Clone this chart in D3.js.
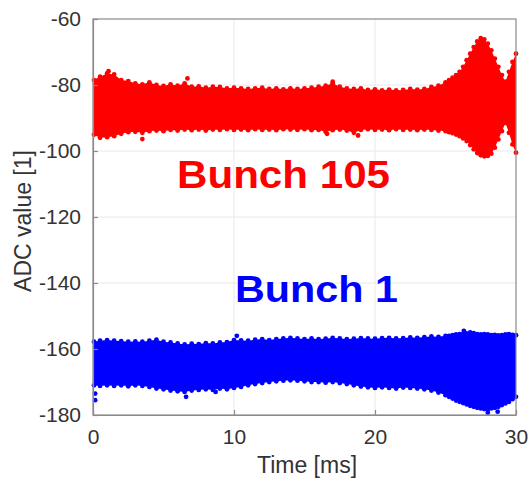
<!DOCTYPE html>
<html>
<head>
<meta charset="utf-8">
<script src="https://cdn.jsdelivr.net/npm/d3@7"></script>
<style>
  html, body { margin: 0; padding: 0; background: #fff; }
  svg { display: block; }
  text { font-family: "Liberation Sans", Arial, sans-serif; }
</style>
</head>
<body>
<svg id="chart" width="530" height="484"></svg>
<script>
// ---- data (envelopes of the dense sample clouds) ----
const time = [0,0.5,1,1.5,2,2.5,3,3.5,4,4.5,5,5.5,6,6.5,7,7.5,8,8.5,9,9.5,10,10.5,11,11.5,12,12.5,13,13.5,14,14.5,15,15.5,16,16.5,17,17.5,18,18.5,19,19.5,20,20.5,21,21.5,22,22.5,23,23.5,24,24.5,25,25.25,25.5,25.75,26,26.25,26.5,26.75,27,27.25,27.5,27.75,28,28.25,28.5,28.75,29,29.25,29.5,29.75,30];

const bunch105Upper = [-78.5,-77.5,-76.5,-76.8,-78.5,-78.8,-79.5,-79.8,-79.2,-80,-80.3,-79.8,-80.2,-79.5,-80.5,-80.4,-80.8,-80.5,-80.6,-81,-80.8,-81,-81.2,-81,-80.8,-81.2,-81,-81.3,-81,-81.2,-81,-80.8,-80.5,-80.2,-79.5,-80.5,-81,-81.2,-81,-81.5,-81.3,-81.6,-81.4,-81.6,-81.5,-81.2,-81.4,-81.2,-80.6,-80.2,-79.2,-78.5,-77.8,-77,-76,-74.5,-72.5,-70.5,-68.5,-66.8,-65.8,-66.2,-67.5,-69.5,-72,-74.5,-77,-79,-76,-73,-70.5];
const bunch105Lower = [-95,-96,-95.8,-95.5,-94.8,-94.3,-94.2,-94.5,-94,-93.8,-94,-93.6,-93.8,-93.5,-93.7,-93.5,-93.8,-93.5,-93.6,-93.4,-93.6,-93.5,-93.7,-93.4,-93.6,-93.5,-93.7,-93.4,-93.5,-93.6,-93.4,-93.7,-93.6,-94.2,-93.7,-93.5,-93.8,-94.5,-93.6,-93.4,-93.6,-93.5,-93.7,-93.4,-93.6,-93.5,-93.7,-93.5,-93.6,-93.8,-94,-94.3,-94.6,-95,-95.5,-96.2,-97,-98.2,-99.5,-100.6,-101.3,-101.6,-101.5,-100.8,-99,-96.5,-94,-91.5,-94.5,-98,-100.5];

const bunch1Upper = [-157.8,-157.5,-157.3,-157.5,-157.6,-157.8,-157.7,-157.8,-157.5,-157.2,-157.8,-158,-158.3,-158.6,-158.4,-158.5,-158.2,-158.3,-158,-157.9,-157.3,-157.4,-157.5,-157.2,-157,-157.3,-157,-156.8,-156.6,-156.8,-157,-156.8,-157,-156.9,-156.6,-156.8,-157,-156.9,-156.7,-156.8,-156.9,-156.7,-156.6,-156.8,-156.7,-156.5,-156.6,-156.4,-156.2,-156.3,-156,-156,-155.8,-155.6,-155.5,-155.4,-155.3,-155,-155.2,-155.5,-155.6,-155.5,-155.6,-155.8,-155.7,-155.9,-155.8,-155.6,-155.5,-155.7,-155.8];
const bunch1Lower = [-171,-171.2,-171,-171.2,-171,-171.3,-171,-171.2,-171.5,-172,-172.2,-172.6,-172.8,-173,-172.6,-172.4,-172.2,-172.4,-172,-172.2,-171.8,-171.5,-171,-170.6,-170.3,-170,-169.8,-169.6,-169.5,-169.6,-169.8,-170,-170,-170.2,-170,-170.3,-170.6,-171,-171.4,-171.6,-171.8,-171.6,-171.8,-172,-171.7,-171.8,-172,-172.2,-172.6,-173.2,-174,-174.5,-175,-175.6,-176,-176.4,-176.8,-177.2,-177.5,-177.8,-178,-178.2,-178.3,-178,-177.8,-177.5,-177,-176.5,-176,-175.2,-174.5];

// isolated samples outside the envelopes
const bunch105OutT = [1.1, 6.7, 17, 3.5, 16.6, 18.8];
const bunch105OutV = [-75.8, -78, -79, -96.4, -94.8, -95.3];
const bunch1OutT = [0.15, 0.15, 6.6, 8.7, 10.2, 26.3, 28, 28.7];
const bunch1OutV = [-175.5, -173.5, -174.5, -173, -156, -154.5, -179.3, -179];

const xTicks = [0, 10, 20, 30];
const yTicks = [-180, -160, -140, -120, -100, -80, -60];
const seriesNames = ["Bunch 105", "Bunch 1"];
const seriesColors = ["#ff0000", "#0000ff"];

// ---- layout ----
const svg = d3.select("#chart");
const L = 93, R = 516, T = 19, B = 415;
const x = d3.scaleLinear().domain([0, 30]).range([L, R]);
const y = d3.scaleLinear().domain([-180, -60]).range([B, T]);

const axisCol = "#8a8a8a", textCol = "#333333", gridCol = "#e8e8e8";

// grid
svg.append("g").selectAll("line.gx").data(xTicks.slice(1, -1)).join("line")
  .attr("x1", d => x(d)).attr("x2", d => x(d)).attr("y1", T).attr("y2", B)
  .attr("stroke", gridCol).attr("stroke-width", 1);
svg.append("g").selectAll("line.gy").data(yTicks.slice(1, -1)).join("line")
  .attr("y1", d => y(d)).attr("y2", d => y(d)).attr("x1", L).attr("x2", R)
  .attr("stroke", gridCol).attr("stroke-width", 1);

// series
const series = [
  {up: bunch105Upper, lo: bunch105Lower, ot: bunch105OutT, ov: bunch105OutV, c: seriesColors[0]},
  {up: bunch1Upper, lo: bunch1Lower, ot: bunch1OutT, ov: bunch1OutV, c: seriesColors[1]}
];
const area = d3.area().x(d => x(d.t)).y0(d => y(d.lo)).y1(d => y(d.up));
series.forEach(s => {
  const pts = time.map((t, i) => ({t, up: s.up[i], lo: s.lo[i]}));
  const g = svg.append("g");
  g.append("path").datum(pts).attr("d", area).attr("fill", s.c);
  const edge = [];
  pts.forEach(p => { edge.push([p.t, p.up]); edge.push([p.t, p.lo]); });
  s.ot.forEach((t, i) => edge.push([t, s.ov[i]]));
  g.selectAll("circle").data(edge).join("circle")
    .attr("cx", d => Math.max(L + 1, x(d[0]))).attr("cy", d => y(d[1]))
    .attr("r", 2.4).attr("fill", s.c);
});

// box
svg.append("rect").attr("x", L).attr("y", T).attr("width", R - L).attr("height", B - T)
  .attr("fill", "none").attr("stroke", axisCol).attr("stroke-width", 1.2);

// axes (inward ticks)
const xAxis = d3.axisBottom(x).tickValues(xTicks).tickSizeInner(-5).tickSizeOuter(0).tickPadding(14).tickFormat(d => String(d));
const yAxis = d3.axisLeft(y).tickValues(yTicks).tickSizeInner(-5).tickSizeOuter(0).tickPadding(12).tickFormat(d => String(d));
const gx = svg.append("g").attr("transform", `translate(0,${B})`).call(xAxis);
const gy = svg.append("g").attr("transform", `translate(${L},0)`).call(yAxis);
[gx, gy].forEach(g => {
  g.select(".domain").attr("stroke", axisCol).attr("stroke-width", 1.2);
  g.selectAll(".tick line").attr("stroke", axisCol).attr("stroke-width", 1.2);
  g.selectAll(".tick text").attr("fill", textCol).attr("font-size", 21)
    .attr("font-family", "'Liberation Sans', Arial, sans-serif");
});

// axis titles
svg.append("text").attr("x", 307).attr("y", 473).attr("text-anchor", "middle")
  .attr("font-size", 23).attr("fill", textCol).text("Time [ms]");
svg.append("text").attr("transform", "translate(31,221) rotate(-90)").attr("text-anchor", "middle")
  .attr("font-size", 23).attr("fill", textCol).text("ADC value [1]");

// series labels
svg.append("text").attr("x", 177).attr("y", 188).attr("font-size", 39).attr("font-weight", "bold")
  .attr("fill", seriesColors[0]).attr("textLength", 213).attr("lengthAdjust", "spacingAndGlyphs")
  .text(seriesNames[0]);
svg.append("text").attr("x", 235).attr("y", 302).attr("font-size", 36).attr("font-weight", "bold")
  .attr("fill", seriesColors[1]).attr("textLength", 163).attr("lengthAdjust", "spacingAndGlyphs")
  .text(seriesNames[1]);
</script>
</body>
</html>
